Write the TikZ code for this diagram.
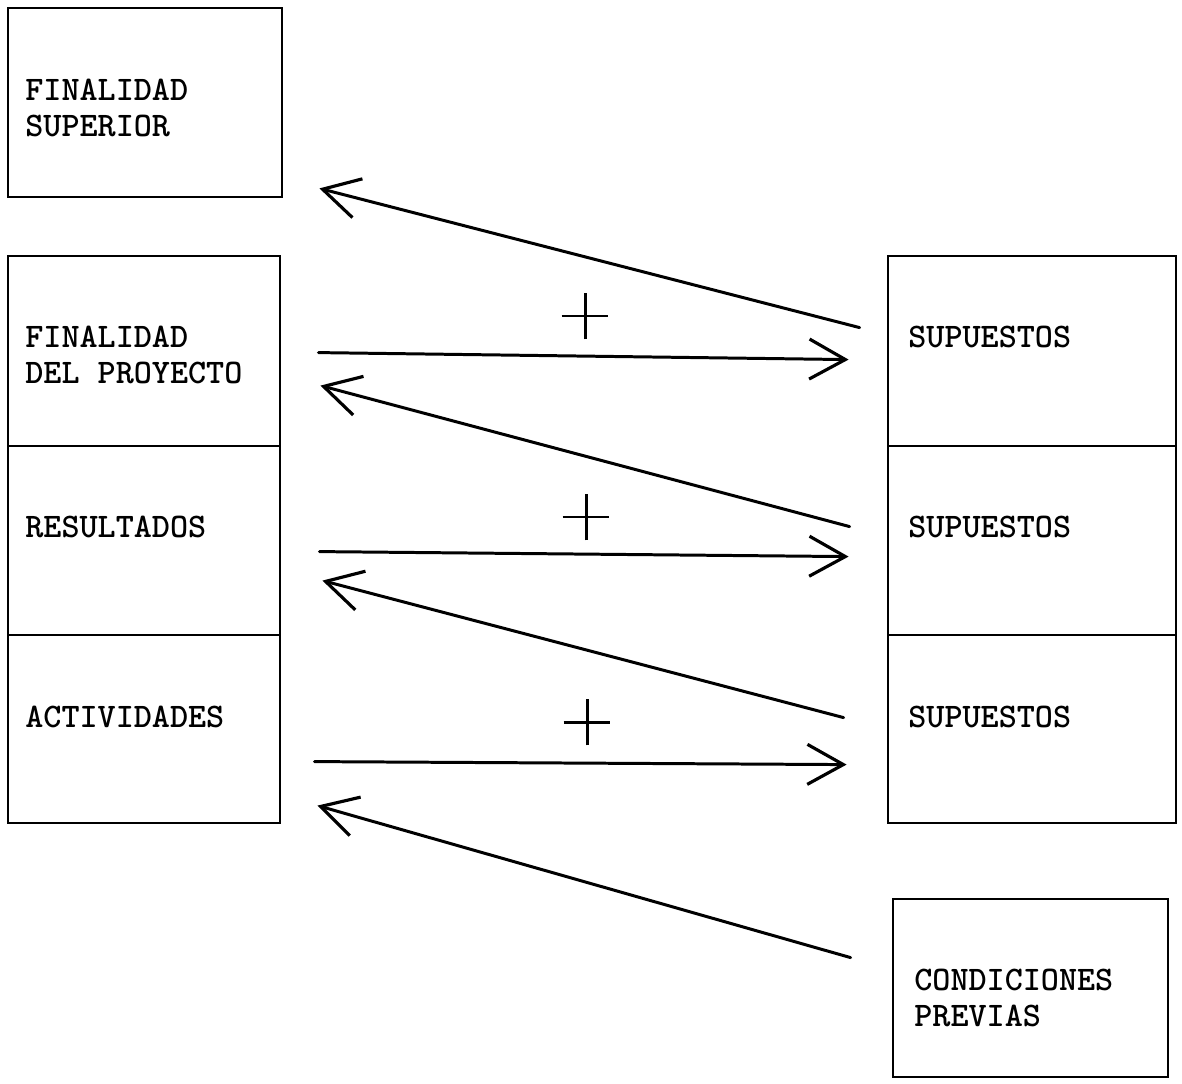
\documentclass[tikz,border=0pt]{standalone}
\usepackage{fontspec}
\usetikzlibrary{arrows.meta,positioning,calc,shapes.misc}

\begin{document}
\begin{tikzpicture}[x=0.2mm,y=-0.2mm,
    arr/.style={line width=1.7pt,line cap=round,-{Straight Barb[length=7.2mm,width=8mm,line width=1.8pt]}},
    box/.style={draw,line width=1.6pt,inner sep=0pt},
    txt/.style={anchor=west,inner sep=0pt,align=left,font=\ttfamily\bfseries\fontsize{19.6}{21}\selectfont},
    plus/.style={draw,cross out,rotate=45,minimum size=6mm,inner sep=0pt,line width=1.7pt}]
  \useasboundingbox (0,0) rectangle (1182,1084);
  % left column
  \node[box,minimum width=54.8mm,minimum height=37.8mm] (finsup) at (145,102.5) {};
  \node[box,minimum width=54.4mm,minimum height=38mm] (finpro) at (144,351) {};
  \node[box,minimum width=54.4mm,minimum height=37.8mm] (result) at (144,540.5) {};
  \node[box,minimum width=54.4mm,minimum height=37.6mm] (activ) at (144,729) {};
  % right column
  \node[box,minimum width=57.6mm,minimum height=38mm] (sup1) at (1032,351) {};
  \node[box,minimum width=57.6mm,minimum height=37.8mm] (sup2) at (1032,540.5) {};
  \node[box,minimum width=57.6mm,minimum height=37.6mm] (sup3) at (1032,729) {};
  \node[box,minimum width=55mm,minimum height=35.6mm] (cond) at (1030.5,988) {};
  % texts
  \node[txt] (tfinsup) at (25,108) {FINALIDAD\\SUPERIOR};
  \node[txt] (tfinpro) at (25,355) {FINALIDAD\\DEL PROYECTO};
  \node[txt] (tresult) at (25,527) {RESULTADOS};
  \node[txt] (tactiv) at (25,717) {ACTIVIDADES};
  \node[txt] (tsup1) at (908,337) {SUPUESTOS};
  \node[txt] (tsup2) at (908,527) {SUPUESTOS};
  \node[txt] (tsup3) at (908,717) {SUPUESTOS};
  \node[txt] (tcond) at (914,998) {CONDICIONES\\PREVIAS};
  % plus signs
  \node[plus] (pl1) at (585,316) {};
  \node[plus] (pl2) at (586,517) {};
  \node[plus] (pl3) at (587,722) {};
  % arrows to the right
  \draw[arr] ($(finpro.north east)+(37,98)$) -- ($(sup1.north west)+(-38,105)$);
  \draw[arr] ($(result.north east)+(38,107)$) -- ($(sup2.north west)+(-38,112)$);
  \draw[arr] ($(activ.north east)+(33,128)$) -- ($(sup3.north west)+(-40,131)$);
  % arrows to the left
  \draw[arr] ($(sup1.north west)+(-27,73)$) -- ($(finsup.south east)+(36,-10)$);
  \draw[arr] ($(sup2.north west)+(-37,82)$) -- ($(finpro.north east)+(39,131)$);
  \draw[arr] ($(sup3.north west)+(-43,84)$) -- ($(result.north east)+(41,136)$);
  \draw[arr] ($(cond.north west)+(-41,60)$) -- ($(activ.north east)+(36,172)$);
\end{tikzpicture}
\end{document}
